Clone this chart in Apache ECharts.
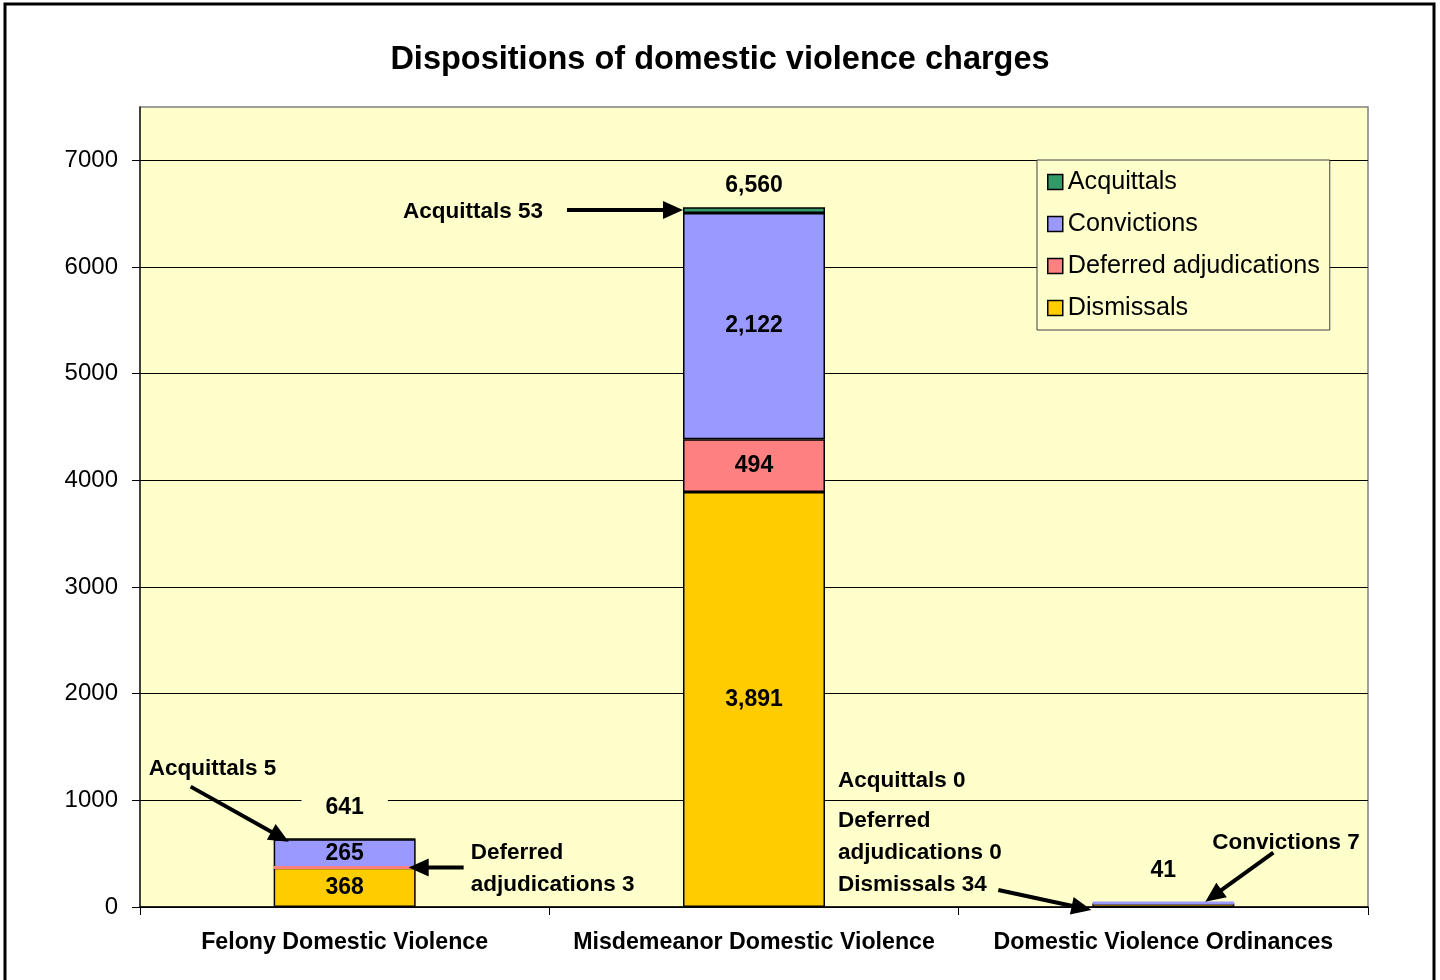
<!DOCTYPE html>
<html>
<head>
<meta charset="utf-8">
<script src="https://cdn.jsdelivr.net/npm/echarts@6/dist/echarts.min.js"></script>
<style>
  html, body { margin: 0; padding: 0; background: #fff; }
  #chart { width: 1440px; height: 980px; }
</style>
</head>
<body>
<div id="chart"></div>
<script>
// ---- data ----
const categories = ['Felony Domestic Violence', 'Misdemeanor Domestic Violence', 'Domestic Violence Ordinances'];
const dismissals  = [368, 3891, 34];
const deferred    = [3, 494, 0];
const convictions = [265, 2122, 7];
const acquittals  = [5, 53, 0];
const seriesNames = ['Dismissals', 'Deferred adjudications', 'Convictions', 'Acquittals'];
const legendOrder = ['Acquittals', 'Convictions', 'Deferred adjudications', 'Dismissals'];
const yMin = 0, yMax = 7500, yInterval = 1000;

const FONT = '"Liberation Sans", Arial, sans-serif';
const colors = {
  'Dismissals': '#FFCC00',
  'Deferred adjudications': '#FF8080',
  'Convictions': '#9999FF',
  'Acquittals': '#339966'
};
const valuesByName = {
  'Dismissals': dismissals,
  'Deferred adjudications': deferred,
  'Convictions': convictions,
  'Acquittals': acquittals
};
const thinAsColor = { 'Deferred adjudications': true, 'Convictions': true };
const totals = categories.map((_, i) => dismissals[i] + deferred[i] + convictions[i] + acquittals[i]);
const fmt = v => Number(v).toLocaleString('en-US');

const chart = echarts.init(document.getElementById('chart'), null, { renderer: 'canvas' });

const barSeries = seriesNames.map(name => ({
  name: name,
  type: 'bar',
  stack: 'total',
  barWidth: 142,
  z: name === 'Deferred adjudications' ? 3 : 2,
  itemStyle: { color: colors[name], borderColor: '#000', borderWidth: 1.5 },
  label: {
    show: true,
    position: 'inside',
    color: '#000',
    fontFamily: FONT,
    fontWeight: 'bold',
    fontSize: 23,
    formatter: p => (p.value >= 100 ? fmt(p.value) : '')
  },
  data: valuesByName[name].map(v => {
    if (v === 0) return '-';
    if (v < 10 && thinAsColor[name]) {
      return { value: v, itemStyle: { borderColor: colors[name], borderWidth: 3 } };
    }
    return v;
  })
}));

const totalLift = [17, 8, 18];
const totalSeries = {
  name: 'Total',
  type: 'scatter',
  symbolSize: 0,
  z: 5,
  silent: true,
  itemStyle: { opacity: 1, color: '#000' },
  data: totals.map((t, i) => ({
    value: t,
    label: { distance: totalLift[i] }
  })),
  label: {
    show: true,
    position: 'top',
    color: '#000',
    fontFamily: FONT,
    fontWeight: 'bold',
    fontSize: 23,
    backgroundColor: '#FFFFCC',
    padding: [6, 24, 2, 24],
    formatter: p => fmt(p.value)
  }
};

chart.setOption({
  animation: false,
  backgroundColor: '#ffffff',
  title: {
    text: 'Dispositions of domestic violence charges',
    left: 'center',
    top: 37,
    textStyle: { fontFamily: FONT, fontWeight: 'bold', fontSize: 32.5, color: '#000', lineHeight: 36 }
  },
  legend: {
    orient: 'vertical',
    left: 1037,
    top: 160,
    data: legendOrder,
    icon: 'rect',
    itemWidth: 15,
    itemHeight: 15,
    itemGap: 14,
    padding: [8, 10, 8, 10],
    backgroundColor: '#FFFFCC',
    borderColor: '#404040',
    borderWidth: 1,
    textStyle: { fontFamily: FONT, fontSize: 25.2, color: '#000', lineHeight: 28 },
    itemStyle: { borderColor: '#000', borderWidth: 1.5 }
  },
  grid: {
    left: 140, right: 72, top: 107, bottom: 73,
    show: true,
    backgroundColor: '#FFFFCC',
    borderColor: '#808080',
    borderWidth: 1.5
  },
  xAxis: {
    type: 'category',
    data: categories,
    axisLine: { lineStyle: { color: '#000', width: 1.5 } },
    axisTick: { show: true, length: 8, lineStyle: { color: '#000', width: 1 } },
    axisLabel: { interval: 0, color: '#000', fontFamily: FONT, fontWeight: 'bold', fontSize: 23.2, margin: 24 },
    splitLine: { show: false }
  },
  yAxis: {
    type: 'value',
    min: yMin, max: yMax, interval: yInterval,
    axisLine: { show: true, lineStyle: { color: '#202020', width: 1.5 } },
    axisTick: { show: true, length: 8, lineStyle: { color: '#000' } },
    axisLabel: { color: '#000', fontFamily: FONT, fontSize: 24, margin: 22, showMaxLabel: false, formatter: v => String(v) },
    splitLine: { show: true, showMaxLine: false, lineStyle: { color: '#000', width: 1 } }
  },
  tooltip: { show: false },
  series: barSeries.concat([totalSeries])
});

// ---- annotations anchored to data coordinates ----
const P = (cat, val) => chart.convertToPixel({ gridIndex: 0 }, [cat, val]);
function arrow(x1, y1, x2, y2) {
  const dx = x2 - x1, dy = y2 - y1, L = Math.hypot(dx, dy), ux = dx / L, uy = dy / L;
  const hl = 20, hw = 9;
  const bx = x2 - ux * hl, by = y2 - uy * hl;
  return [
    { type: 'line', z: 100, shape: { x1: x1, y1: y1, x2: bx + ux * 2, y2: by + uy * 2 }, style: { stroke: '#000', lineWidth: 4 } },
    { type: 'polygon', z: 100, shape: { points: [[x2, y2], [bx - uy * hw, by + ux * hw], [bx + uy * hw, by - ux * hw]] }, style: { fill: '#000' } }
  ];
}
function label(x, y, text, align) {
  return {
    type: 'text', z: 100, x: x, y: y,
    style: {
      text: text, fontFamily: FONT, fontWeight: 'bold', fontSize: 22.5, fill: '#000',
      align: align || 'left', verticalAlign: 'middle', lineHeight: 32
    }
  };
}

const els = [];
// Misdemeanor acquittals
const mAcq = P(1, dismissals[1] + deferred[1] + convictions[1] + acquittals[1] / 2);
els.push(...arrow(mAcq[0] - 71 - 116, mAcq[1], mAcq[0] - 71, mAcq[1]));
els.push(label(mAcq[0] - 71 - 140, mAcq[1] + 2, 'Acquittals ' + acquittals[1], 'right'));
// Felony acquittals
const fTop = P(0, totals[0]);
els.push(...arrow(fTop[0] - 154, fTop[1] - 52, fTop[0] - 56, fTop[1] + 3));
els.push(label(fTop[0] - 196, fTop[1] - 70, 'Acquittals ' + acquittals[0]));
// Felony deferred
const fDef = P(0, dismissals[0] + deferred[0] / 2);
els.push(...arrow(fDef[0] + 119, fDef[1], fDef[0] + 64, fDef[1]));
els.push(label(fDef[0] + 126, fDef[1] + 1, 'Deferred\nadjudications ' + deferred[0]));
// Ordinances: acquittals, deferred, dismissals
const oBase = P(2, 0);
const mCenter = P(1, 0);
els.push(label(mCenter[0] + 84, oBase[1] - 126, 'Acquittals ' + acquittals[2]));
els.push(label(mCenter[0] + 84, oBase[1] - 54, 'Deferred\nadjudications ' + deferred[2] + '\nDismissals ' + dismissals[2]));
els.push(...arrow(oBase[0] - 165, oBase[1] - 17, oBase[0] - 72, oBase[1] + 3));
// Ordinances convictions
const oTop = P(2, totals[2]);
els.push(...arrow(oTop[0] + 110, oTop[1] - 50, oTop[0] + 42, oTop[1] - 1));
els.push(label(oTop[0] + 49, oTop[1] - 60, 'Convictions ' + convictions[2]));
// outer frame
els.push({ type: 'rect', z: 100, silent: true, shape: { x: 5, y: 4, width: 1429, height: 1000 }, style: { fill: 'none', stroke: '#000', lineWidth: 3 } });

chart.setOption({ graphic: { elements: els } });
</script>
</body>
</html>
